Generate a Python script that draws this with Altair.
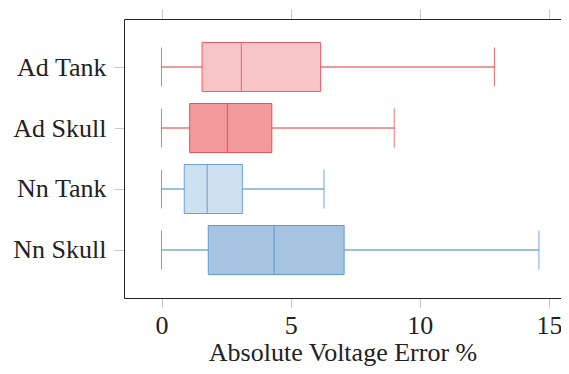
import altair as alt
import pandas as pd

categories = ["Ad Tank", "Ad Skull", "Nn Tank", "Nn Skull"]
mins = [0.0, 0.0, 0.0, 0.0]
q1 = [1.57, 1.09, 0.88, 1.81]
medians = [3.09, 2.55, 1.77, 4.36]
q3 = [6.16, 4.27, 3.13, 7.07]
maxs = [12.89, 9.01, 6.29, 14.61]

fill_colors = ["#f7c5c8", "#f4999b", "#cde0f0", "#a6c4e1"]
box_strokes = ["#ee5c64", "#ec5058", "#6aa2d6", "#5d9ad0"]
line_colors = ["#e5343e", "#e5343e", "#3a80c4", "#3a80c4"]

df = pd.DataFrame({
    "cat": categories, "min": mins, "q1": q1, "median": medians,
    "q3": q3, "max": maxs,
})

FONT = "Liberation Serif"
xscale = alt.Scale(domain=[-1.452, 15.466], nice=False, zero=False)
yscale = alt.Scale(type="point", padding=0.787, domain=categories)
y_enc = alt.Y("cat:N", scale=yscale, sort=categories, title=None,
              axis=alt.Axis(labelPadding=8, tickSize=10))

fill_enc = alt.Fill("cat:N", scale=alt.Scale(domain=categories, range=fill_colors), legend=None)
bstroke_enc = alt.Stroke("cat:N", scale=alt.Scale(domain=categories, range=box_strokes), legend=None)
line_enc = alt.Color("cat:N", scale=alt.Scale(domain=categories, range=line_colors), legend=None)

base = alt.Chart(df)

whisk = base.mark_rule(strokeWidth=1).encode(
    x=alt.X("min:Q", scale=xscale, title=None,
            axis=alt.Axis(orient="top", labels=False, tickSize=10, values=[0, 5, 10, 15])),
    x2="max:Q", y=y_enc, color=line_enc)

box = base.mark_bar(size=49, strokeWidth=1).encode(
    x=alt.X("q1:Q", scale=xscale, title="Absolute Voltage Error %",
            axis=alt.Axis(orient="bottom", values=[0, 5, 10, 15], tickSize=10,
                          labelPadding=4, titleBaseline="alphabetic", titleY=62)),
    x2="q3:Q", y=y_enc, fill=fill_enc, stroke=bstroke_enc)

med = base.mark_tick(size=48, thickness=1).encode(
    x=alt.X("median:Q", scale=xscale, axis=None), y=y_enc, color=line_enc)
cap_lo = base.mark_tick(size=39, thickness=1).encode(
    x=alt.X("min:Q", scale=xscale, axis=None), y=y_enc, color=line_enc)
cap_hi = base.mark_tick(size=39, thickness=1).encode(
    x=alt.X("max:Q", scale=xscale, axis=None), y=y_enc, color=line_enc)

chart = alt.layer(whisk, box, med, cap_lo, cap_hi).resolve_axis(x="independent").properties(
    width=437, height=279,
    padding={"left": 116, "top": 11, "right": 0, "bottom": 68},
    autosize=alt.AutoSizeParams(type="none"),
).configure_view(strokeWidth=0, stroke="transparent").configure_axis(
    labelFont=FONT, labelFontSize=26, labelColor="#222222",
    titleFont=FONT, titleFontSize=26, titleColor="#222222", titleFontWeight="normal",
    tickColor="#c8c8c8", domainColor="#222222", domainWidth=1, grid=False,
    labelFlush=False,
)

chart.save("out.html", embed_options={"renderer": "svg", "actions": False})
